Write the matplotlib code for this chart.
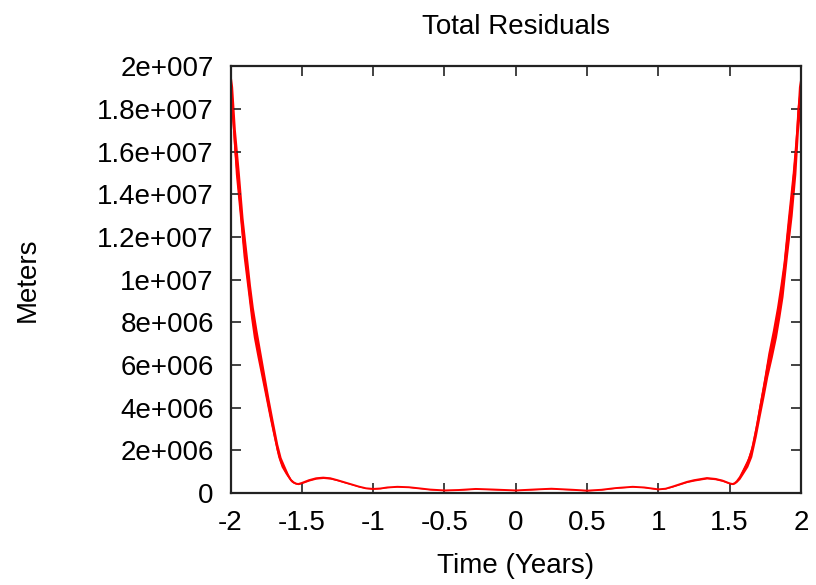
import matplotlib
matplotlib.use("Agg")
from matplotlib import pyplot as plt
import numpy as np

# residual curve, time in years, residual in units of 1e6 m
times = [-2.000, -1.985, -1.966, -1.938, -1.912, -1.877, -1.860, -1.840, -1.814,
         -1.786, -1.758, -1.730, -1.700, -1.669, -1.645, -1.616, -1.595, -1.576,
         -1.558, -1.540, -1.525, -1.500, -1.450, -1.400,
         -1.350, -1.300, -1.250, -1.200, -1.150, -1.100, -1.050, -1.000, -0.950,
         -0.900, -0.830, -0.750, -0.680, -0.600, -0.500, -0.400, -0.280, -0.150,
         0.000, 0.150, 0.250, 0.400, 0.500, 0.600, 0.700, 0.820, 0.900, 1.000,
         1.050, 1.100, 1.200, 1.250, 1.340, 1.400, 1.450, 1.500, 1.520, 1.535,
         1.550, 1.572, 1.596, 1.627, 1.655, 1.686, 1.713, 1.741, 1.767, 1.799,
         1.828, 1.852, 1.874, 1.905, 1.938, 1.964, 1.982, 2.000]
resid = [19.0, 18.0, 16.0, 14.0, 12.0, 10.0, 9.0, 8.0, 7.0,
         6.0, 5.0, 4.0, 3.0, 2.0, 1.45, 1.06, 0.80, 0.60,
         0.50, 0.44, 0.42, 0.47, 0.60, 0.69,
         0.72, 0.69, 0.60, 0.50, 0.40, 0.30, 0.22, 0.19, 0.21,
         0.26, 0.29, 0.27, 0.22, 0.16, 0.12, 0.14, 0.19, 0.16,
         0.12, 0.17, 0.20, 0.15, 0.11, 0.15, 0.23, 0.29, 0.26, 0.17,
         0.20, 0.30, 0.52, 0.60, 0.70, 0.66, 0.58, 0.45, 0.42, 0.46,
         0.55, 0.75, 1.06, 1.45, 2.0, 3.0, 4.0, 5.0, 6.0, 7.0,
         8.0, 9.0, 10.0, 12.0, 14.0, 16.0, 18.0, 19.0]
# half width of the fast wobble around the curve, same units
wobble = [0.80, 1.05, 1.05, 1.00, 0.90, 0.80, 0.75, 0.70, 0.62,
          0.55, 0.48, 0.42, 0.36, 0.30, 0.22, 0.16, 0.10, 0.07,
          0.05, 0.03, 0.03, 0.03, 0.04, 0.04,
          0.04, 0.04, 0.03, 0.03, 0.02, 0.02, 0.01, 0.01, 0.01,
          0.01, 0.01, 0.01, 0.01, 0.01, 0.01, 0.01, 0.01, 0.01,
          0.01, 0.01, 0.01, 0.01, 0.01, 0.01, 0.01, 0.01, 0.01, 0.01,
          0.01, 0.02, 0.03, 0.04, 0.04, 0.04, 0.04, 0.03, 0.03, 0.03,
          0.05, 0.10, 0.16, 0.22, 0.30, 0.36, 0.42, 0.48, 0.55, 0.62,
          0.70, 0.75, 0.80, 0.90, 1.00, 1.05, 1.05, 0.80]

xticks = [-2, -1.5, -1, -0.5, 0, 0.5, 1, 1.5, 2]
xticklabels = ["-2", "-1.5", "-1", "-0.5", "0", "0.5", "1", "1.5", "2"]
yticks = [0, 2e6, 4e6, 6e6, 8e6, 1e7, 1.2e7, 1.4e7, 1.6e7, 1.8e7, 2e7]
yticklabels = ["0", "2e+006", "4e+006", "6e+006", "8e+006", "1e+007",
               "1.2e+007", "1.4e+007", "1.6e+007", "1.8e+007", "2e+007"]

plt.rcParams['font.family'] = ['Liberation Sans', 'DejaVu Sans']

fig = plt.figure(figsize=(8.16, 5.85), dpi=100)
ax = fig.add_axes([230.5/816, 1-493/585, 570.5/816, 426.8/585])

t = np.array(times)
r = np.array(resid) * 1e6
w = np.array(wobble) * 1e6
ax.fill_between(t, r - w, r + w, color='red', lw=0)
ax.plot(t, r, c='red', lw=1.4)

ax.set_xlim(-2, 2)
ax.set_ylim(0, 2e7)
ax.set_xticks(xticks)
ax.set_xticklabels(xticklabels)
ax.set_yticks(yticks)
ax.set_yticklabels(yticklabels)
ax.tick_params(axis='both', which='major', labelsize=20, direction='in',
               length=7, width=1.2, top=True, right=True, color='#222222')
ax.tick_params(axis='x', pad=12)
ax.tick_params(axis='y', pad=12)
for s in ax.spines.values():
    s.set_linewidth(1.6)
    s.set_color('#222222')

fig.text(515.75/816, 1-27/585, "Total Residuals", fontsize=20, ha='center', va='center')
fig.text(28/816, 1-280/585, "Meters", fontsize=20, rotation=90, ha='center', va='center')
fig.text(515.75/816, 1-566/585, "Time (Years)", fontsize=20, ha='center', va='center')

fig.savefig("out.png", dpi=100)
